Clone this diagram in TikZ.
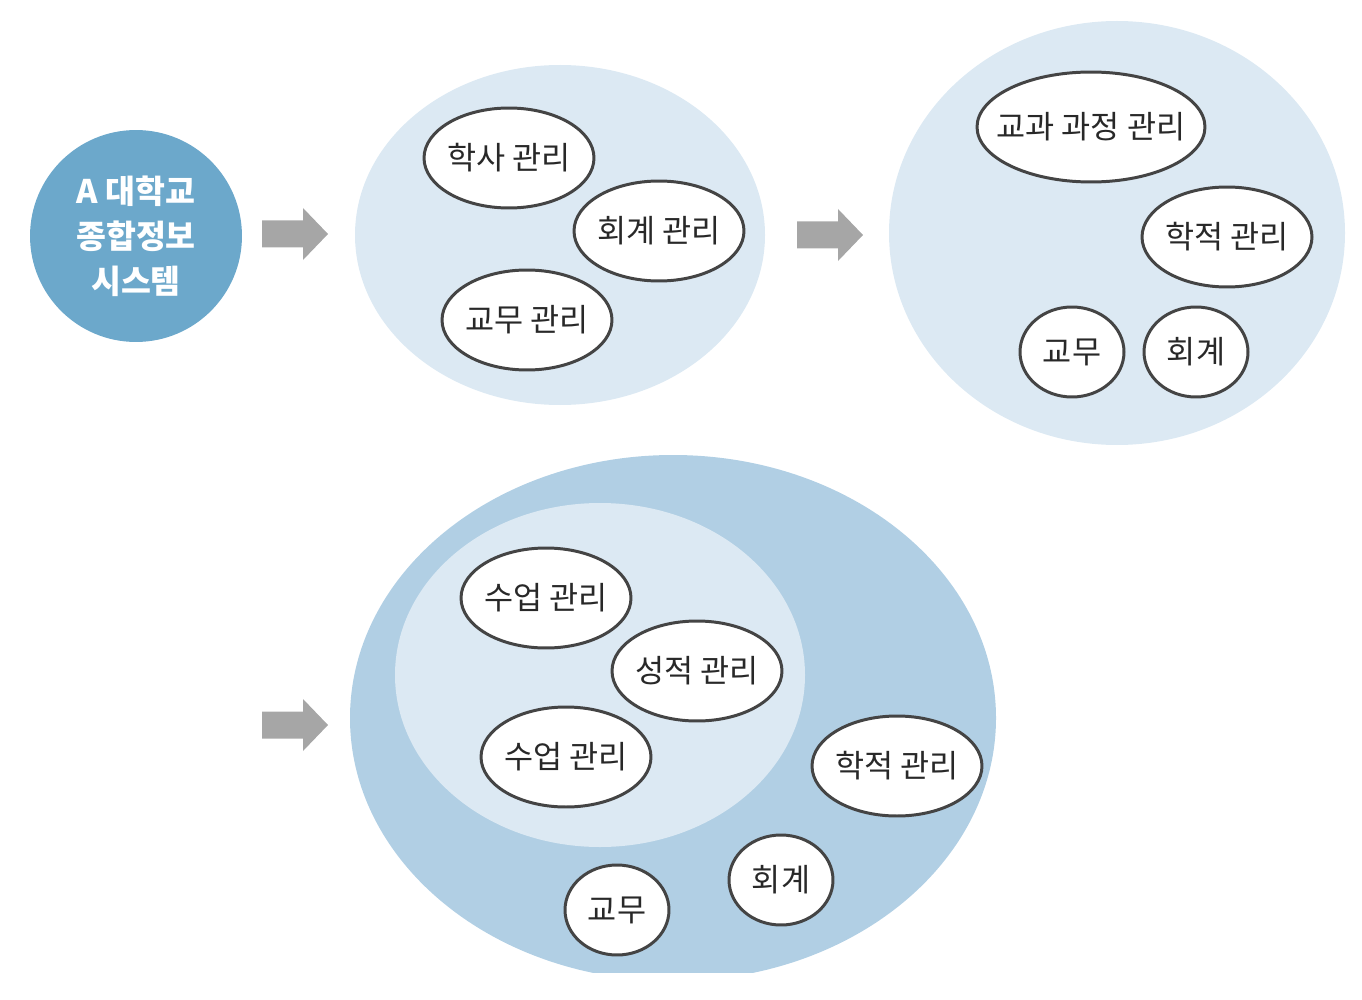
\documentclass[tikz,border=0pt]{standalone}
\usepackage{fontspec}
\setmainfont{Noto Sans CJK KR}
\usepackage{tikz}
\usetikzlibrary{shapes.geometric}

\definecolor{sysblue}{RGB}{108,168,203}
\definecolor{paleblue}{RGB}{220,233,243}
\definecolor{midblue}{RGB}{177,207,228}
\definecolor{arrowgray}{RGB}{166,166,166}
\definecolor{edgegray}{RGB}{68,68,68}
\definecolor{inkgray}{RGB}{40,40,40}

\newcommand{\lbl}[1]{\makebox[0pt]{#1}}

\tikzset{
  module/.style={ellipse, draw=edgegray, fill=white, line width=1.7pt, inner sep=0pt,
    minimum width=3.4cm, minimum height=2cm, text=inkgray, font=\fontsize{18}{21}\selectfont},
  widemodule/.style={module, minimum width=4.56cm, minimum height=2.2cm},
  smallmodule/.style={module, minimum width=2.08cm, minimum height=1.8cm}
}

\begin{document}
\begin{tikzpicture}[x=0.02cm, y=-0.02cm, line width=1pt]
    \useasboundingbox (0, 0) rectangle (1362, 1000);

    % draw system circle
    \node[circle, fill=sysblue, minimum size=4.24cm, inner sep=0pt, align=center, text=white,
      font=\bfseries\fontsize{18.5}{25.5}\selectfont] (sys) at (136, 236) {A 대학교\\종합정보\\시스템};

    % draw gray arrows
    \foreach \ax/\ay in {262/234, 797/235, 262/725}
      \fill[arrowgray] (\ax, \ay-13.5) -- ++(41, 0) -- ++(0, -12.5) -- ++(25, 26)
        -- ++(-25, 26) -- ++(0, -12.5) -- ++(-41, 0) -- cycle;

    % draw stage 1
    \fill[paleblue] (560, 235) ellipse [x radius=205, y radius=170];
    \node[module] (haksa1) at (509, 158) {\lbl{학사 관리}};
    \node[module] (hoegye1) at (659, 231) {\lbl{회계 관리}};
    \node[module] (gyomu1) at (527, 320) {\lbl{교무 관리}};

    % draw stage 2
    \fill[paleblue] (1117, 233) ellipse [x radius=228, y radius=212];
    \node[widemodule] (gyogwa2) at (1091, 127) {\lbl{교과 과정 관리}};
    \node[module] (hakjeok2) at (1227, 237) {\lbl{학적 관리}};
    \node[smallmodule] (gyomu2) at (1072, 352) {\lbl{교무}};
    \node[smallmodule] (hoegye2) at (1196, 352) {\lbl{회계}};

    % draw stage 3
    \begin{scope}
      \clip (0, 0) rectangle (1362, 972);
      \fill[midblue] (673, 718) ellipse [x radius=323, y radius=263];
    \end{scope}
    \fill[paleblue] (600, 675) ellipse [x radius=205, y radius=172];
    \node[module] (sueop3) at (546, 598) {\lbl{수업 관리}};
    \node[module] (seongjeok3) at (697, 671) {\lbl{성적 관리}};
    \node[module] (sueopb3) at (566, 757) {\lbl{수업 관리}};
    \node[module] (hakjeok3) at (897, 766) {\lbl{학적 관리}};
    \node[smallmodule] (hoegye3) at (781, 880) {\lbl{회계}};
    \node[smallmodule] (gyomu3) at (617, 910) {\lbl{교무}};

\end{tikzpicture}
\end{document}
